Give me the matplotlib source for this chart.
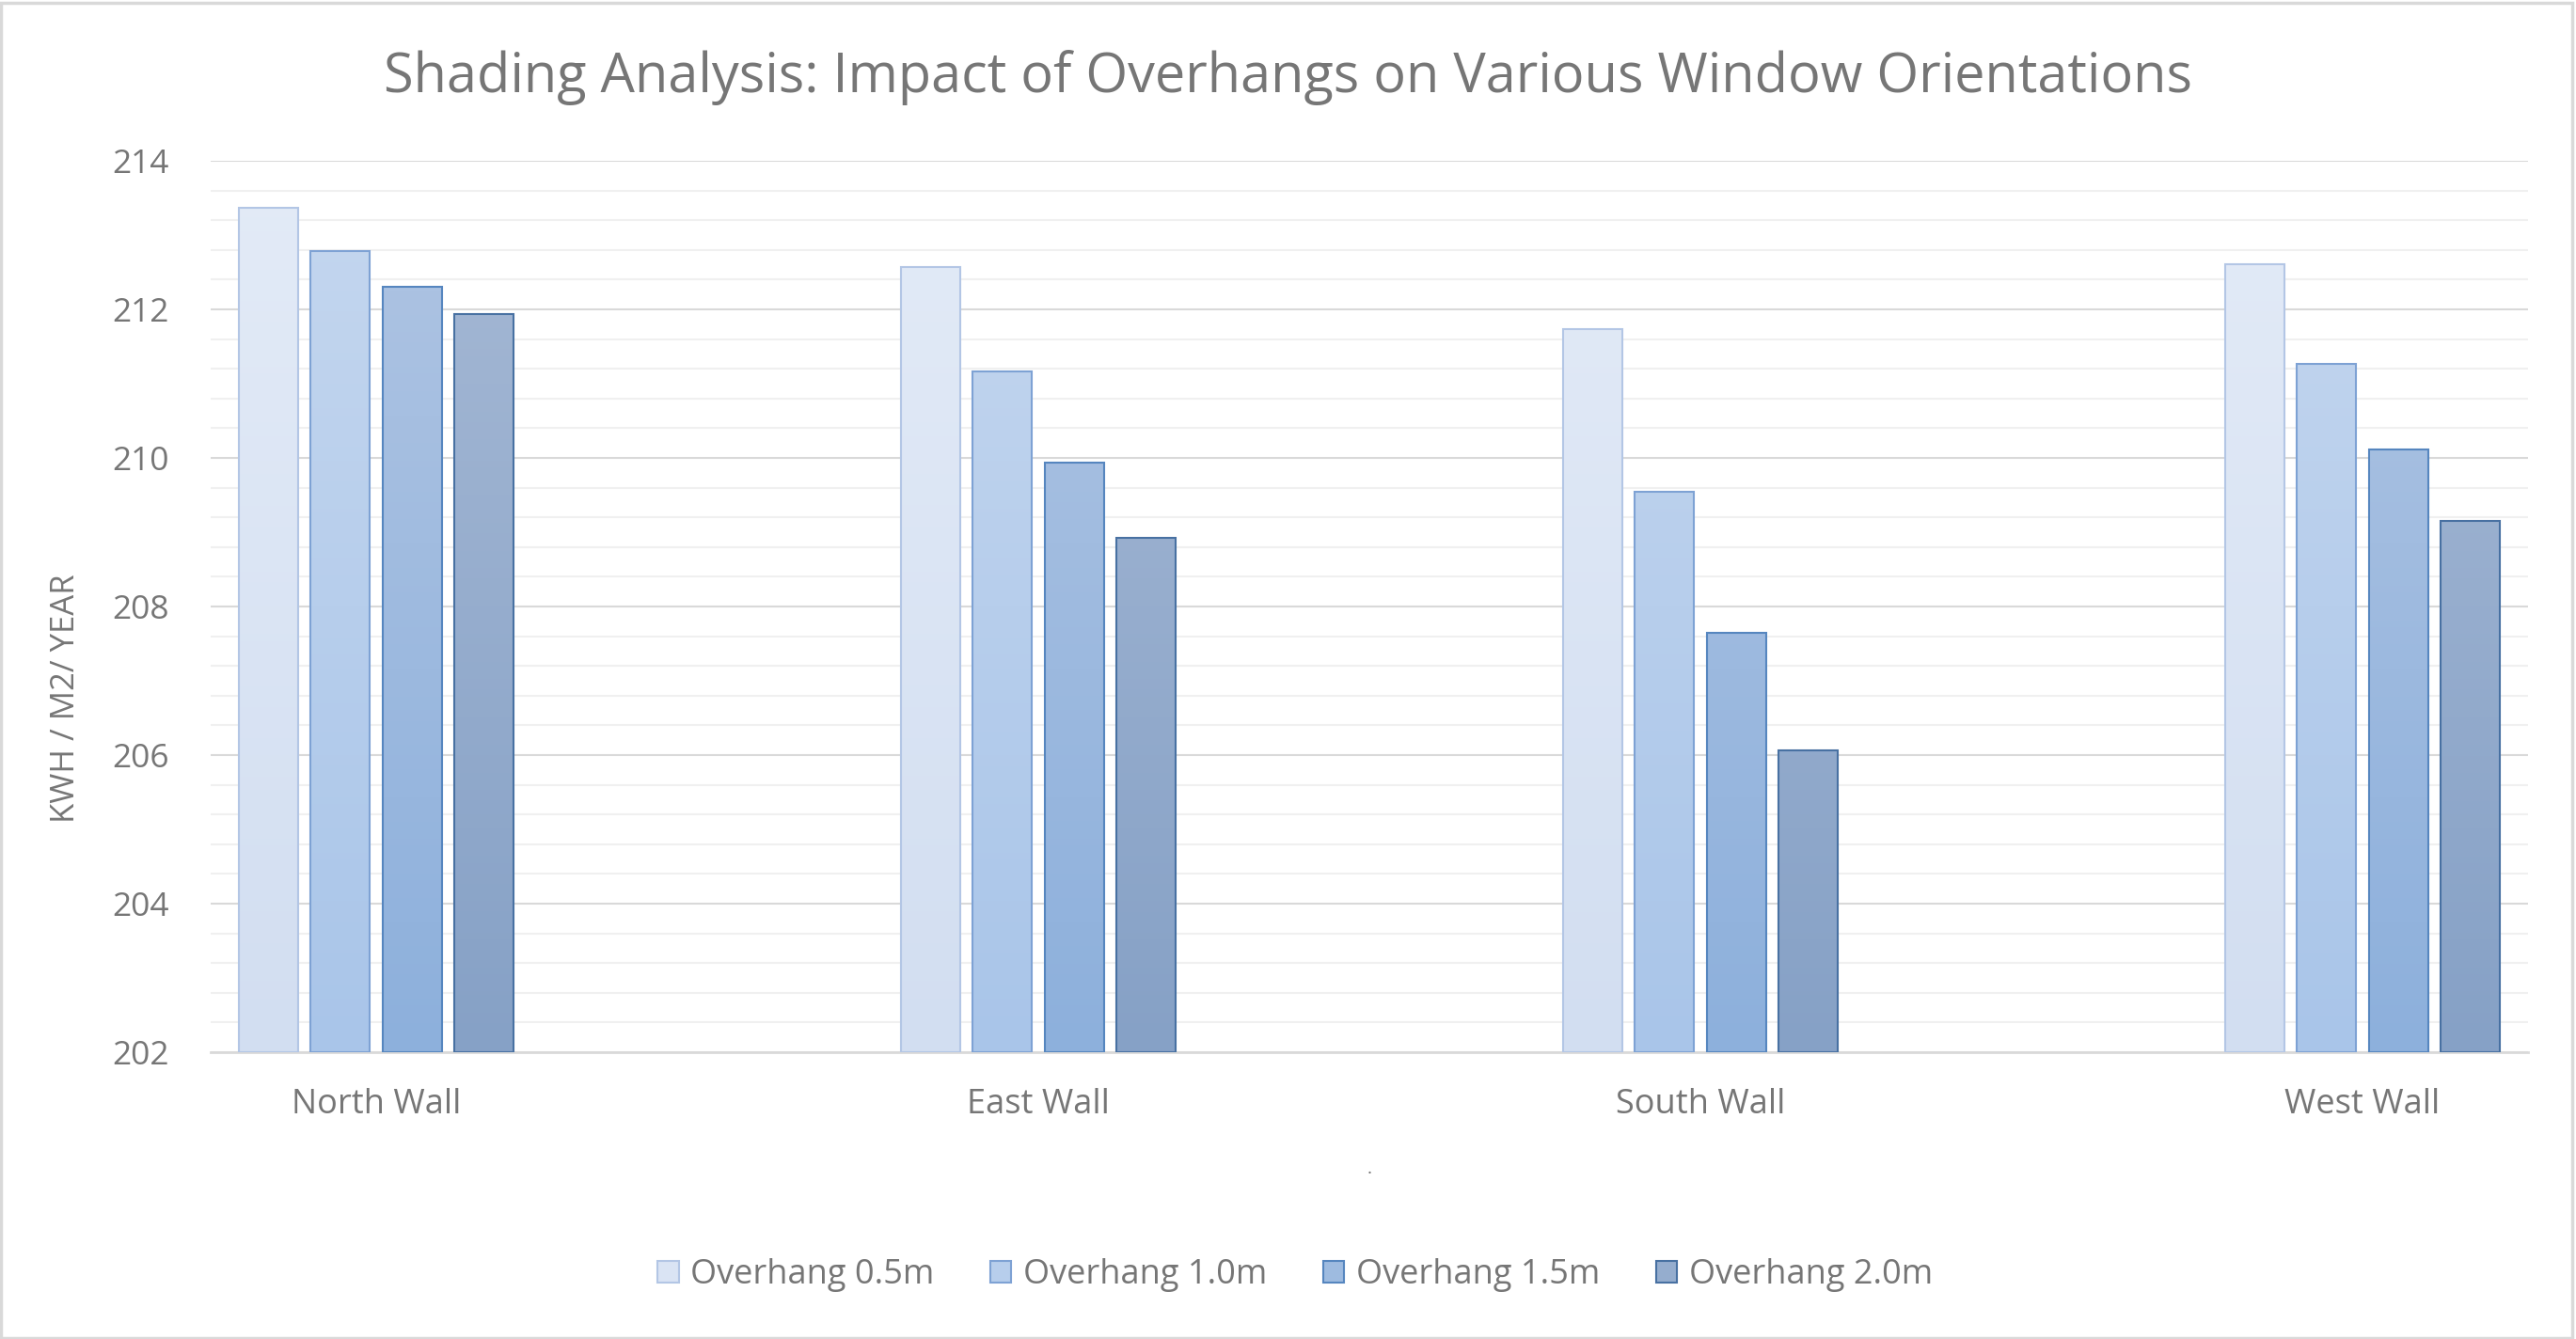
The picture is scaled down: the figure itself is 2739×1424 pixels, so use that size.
import matplotlib
matplotlib.use("Agg")
import matplotlib.pyplot as plt
import numpy as np
from matplotlib.patches import Rectangle, Patch
from matplotlib.colors import LinearSegmentedColormap

categories = ["North Wall", "East Wall", "South Wall", "West Wall"]
series_names = ["Overhang 0.5m", "Overhang 1.0m", "Overhang 1.5m", "Overhang 2.0m"]
overhang_05 = [213.37, 212.57, 211.74, 212.61]
overhang_10 = [212.79, 211.16, 209.55, 211.27]
overhang_15 = [212.31, 209.94, 207.64, 210.11]
overhang_20 = [211.94, 208.92, 206.06, 209.15]
series_values = [overhang_05, overhang_10, overhang_15, overhang_20]
y_ticks = [202, 204, 206, 208, 210, 212, 214]

title = "Shading Analysis: Impact of Overhangs on Various Window Orientations"
y_label = "KWH / M2/ YEAR"

grad_top = ["#E3EBF7", "#C5D7EF", "#B0C5E3", "#A6B9D5"]
grad_bot = ["#D2DEF1", "#A9C5E9", "#8DB0DC", "#86A1C6"]
edge_cols = ["#B3C6E5", "#7EA2D4", "#5686BF", "#4871A2"]
legend_face = ["#DAE4F4", "#B7CEEC", "#9EBBE0", "#95ADCE"]

text_col = "#767676"
font = "Open Sans"

W, H = 2739, 1424
fig = plt.figure(figsize=(W / 100, H / 100), dpi=100)
fig.patch.set_facecolor("white")

ax = fig.add_axes([224 / W, (H - 1119) / H, (2688 - 224) / W, (1119 - 171) / H])
ax.set_xlim(-0.25, 3.25)
ax.set_ylim(202, 214)

x = np.arange(len(categories))
pitch = 0.1087
width = 0.0895
offsets = (np.arange(4) - 1.5) * pitch

for i, vals in enumerate(series_values):
    bars = ax.bar(x + offsets[i], np.array(vals) - 202, bottom=202, width=width,
                  facecolor="none", edgecolor=edge_cols[i], linewidth=1.5, zorder=3)
    cmap = LinearSegmentedColormap.from_list("g%d" % i, [grad_bot[i], grad_top[i]])
    for p in bars.patches:
        x0, y0 = p.get_x(), p.get_y()
        w, h = p.get_width(), p.get_height()
        grad = np.linspace(0, 1, 256).reshape(-1, 1)
        im = ax.imshow(grad, cmap=cmap, aspect="auto", origin="lower",
                       extent=[x0, x0 + w, 202, 214], zorder=2, interpolation="bilinear")
        clip = Rectangle((x0, y0), w, h, transform=ax.transData)
        im.set_clip_path(clip)

ax.set_xlim(-0.25, 3.25)
ax.set_ylim(202, 214)

ax.set_yticks(y_ticks)
ax.set_yticks(np.arange(202, 214.01, 0.4), minor=True)
ax.grid(which="major", axis="y", color="#D9D9D9", linewidth=1.5, zorder=0)
ax.grid(which="minor", axis="y", color="#F0F0F0", linewidth=1.5, zorder=0)
ax.set_axisbelow(True)
for s in ["top", "right", "left"]:
    ax.spines[s].set_visible(False)
ax.spines["bottom"].set_color("#D9D9D9")
ax.spines["bottom"].set_linewidth(2)
ax.tick_params(axis="both", which="both", length=0)
ax.set_xticks(x)
ax.set_xticklabels(categories, fontsize=26, color=text_col, fontfamily=font)
ax.set_yticklabels([str(t) for t in y_ticks], fontsize=25.5, color=text_col, fontfamily=font)
ax.tick_params(axis="x", pad=27)
ax.tick_params(axis="y", pad=32)

fig.text(0.5, (H - 83) / H, title, ha="center", va="center", fontsize=41.5,
         color=text_col, fontfamily=font)
fig.text(70 / W, (H - 743) / H, y_label, ha="center", va="center", rotation=90,
         fontsize=25, color=text_col, fontfamily=font)
fig.text(1456 / W, (H - 1243) / H, ".", ha="center", va="center", fontsize=14,
         color=text_col, fontfamily=font)

handles = [Patch(facecolor=legend_face[i], edgecolor=edge_cols[i], linewidth=1.5)
           for i in range(4)]
leg = fig.legend(handles, series_names, loc="center", bbox_to_anchor=(1377 / W, (H - 1356) / H),
                 ncol=4, frameon=False, prop={"family": font, "size": 26},
                 handlelength=0.62, handleheight=0.62, handletextpad=0.35,
                 columnspacing=1.65, labelcolor=text_col)

fig.add_artist(Rectangle((0.0005, 0.001), 0.998, 0.997, transform=fig.transFigure,
                         fill=False, edgecolor="#D9D9D9", linewidth=2.5))

fig.savefig("out.png", dpi=100, facecolor="white")
